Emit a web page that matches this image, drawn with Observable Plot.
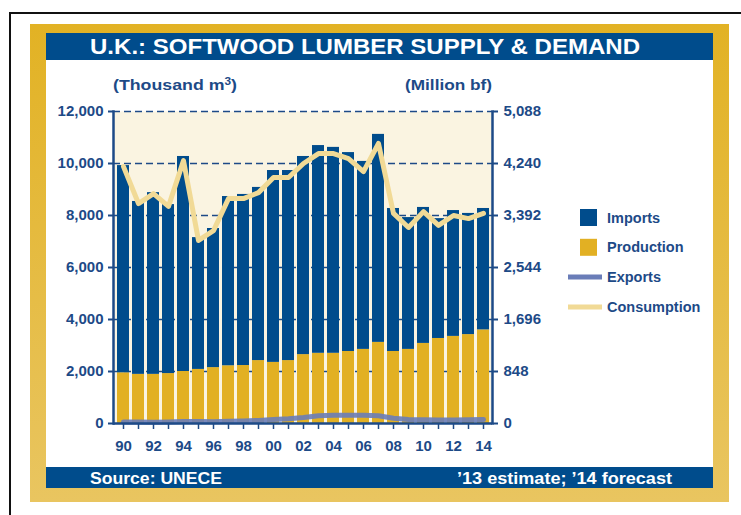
<!DOCTYPE html>
<html>
<head>
<meta charset="utf-8">
<script src="https://cdn.jsdelivr.net/npm/d3@7"></script>
<script src="https://cdn.jsdelivr.net/npm/@observablehq/plot@0.6"></script>
<style>
  html, body { margin: 0; padding: 0; background: #fff; }
  body { width: 741px; height: 515px; position: relative; overflow: hidden;
         font-family: "Liberation Sans", Arial, Helvetica, sans-serif; }
  .abs { position: absolute; }
  #blackframe { left: 9px; top: 12px; width: 800px; height: 600px;
                border-left: 2px solid #111; border-top: 2px solid #111; }
  #gold { left: 30px; top: 24px; width: 699px; height: 478px;
          background: linear-gradient(#e2b224, #e9c560); }
  #panel { left: 46px; top: 33px; width: 667px; height: 455px; background: #fff; }
  #titlebar { left: 46px; top: 33px; width: 667px; height: 27px; background: #004c8c; }
  #footbar { left: 46px; top: 467px; width: 667px; height: 21px; background: #004c8c; }
  #overlay { left: 0; top: 0; }
  #chart { left: 0; top: 0; }
</style>
</head>
<body>
<div id="blackframe" class="abs"></div>
<div id="gold" class="abs"></div>
<div id="panel" class="abs"></div>
<div id="titlebar" class="abs"></div>
<div id="footbar" class="abs"></div>
<div id="chart" class="abs"></div>
<svg id="overlay" class="abs" width="741" height="515" style="pointer-events:none">
  <text x="90" y="54" textLength="550" lengthAdjust="spacingAndGlyphs" fill="#fff" font-weight="bold" font-size="22">U.K.: SOFTWOOD LUMBER SUPPLY &amp; DEMAND</text>
  <text x="113" y="90" textLength="124" lengthAdjust="spacingAndGlyphs" fill="#1d4a87" font-weight="bold" font-size="15">(Thousand m<tspan font-size="10" dy="-5">3</tspan><tspan dy="5">)</tspan></text>
  <text x="405" y="90" textLength="87" lengthAdjust="spacingAndGlyphs" fill="#1d4a87" font-weight="bold" font-size="15">(Million bf)</text>
  <text x="90" y="484" textLength="132" lengthAdjust="spacingAndGlyphs" fill="#fff" font-weight="bold" font-size="17">Source: UNECE</text>
  <text x="457" y="484" textLength="215" lengthAdjust="spacingAndGlyphs" fill="#fff" font-weight="bold" font-size="17">’13 estimate; ’14 forecast</text>
  <g id="legend"></g>
</svg>
<script>
const years = d3.range(1990, 2015);
const production = [1950,1890,1890,1920,2000,2080,2150,2220,2230,2420,2350,2420,2650,2700,2700,2770,2850,3120,2770,2850,3080,3270,3350,3420,3600];
const imports    = [7970,6650,6990,6500,8270,5070,5350,6510,6580,6660,7380,7310,7620,7990,7920,7650,7230,8000,5500,5070,5230,4610,4840,4660,4670];
const exports_   = [60,60,50,60,80,80,70,90,100,120,150,180,230,300,320,320,320,300,200,150,140,130,130,140,150];
const consumption= [9880,8460,8840,8350,10110,7040,7420,8650,8650,8880,9460,9460,10000,10380,10380,10190,9690,10770,8080,7540,8150,7620,8000,7880,8080];
const yTicks = [0,2000,4000,6000,8000,10000,12000];
const bfFactor = 5088 / 12000;
const legendItems = ["Imports","Production","Exports","Consumption"];

const C = {imports:"#004c8c", production:"#e2b023", exports:"#6a7db8", consumption:"#f1da96", ink:"#1d4a87", bg:"#faf4e1"};

const bars = [];
years.forEach((y,i) => {
  bars.push({year:y, series:"Production", value:production[i]});
  bars.push({year:y, series:"Imports", value:imports[i]});
});
const lines = years.map((y,i) => ({year:y, exp:exports_[i], cons:consumption[i]}));

const chart = Plot.plot({
  width: 741, height: 515,
  marginLeft: 113, marginRight: 249, marginTop: 111, marginBottom: 92,
  style: {background: "transparent", fontSize: "15px", fontFamily: "'Liberation Sans', Arial, sans-serif", color: C.ink, fontWeight: "bold"},
  x: {type: "band", domain: years, padding: 0.2, label: null},
  y: {domain: [0, 12000], label: null},
  color: {domain: ["Production","Imports"], range: [C.production, C.imports]},
  marks: [
    Plot.frame({fill: C.bg, stroke: "none"}),
    Plot.gridY(yTicks.filter(d => d > 0), {stroke: C.ink, strokeOpacity: 1, strokeWidth: 1.5, strokeDasharray: "7,4"}),
    Plot.barY(bars, {x: "year", y: "value", fill: "series", order: ["Production","Imports"]}),
    Plot.line(lines, {x: "year", y: "exp", stroke: C.exports, strokeWidth: 5, strokeOpacity: 0.9}),
    Plot.line(lines, {x: "year", y: "cons", stroke: C.consumption, strokeWidth: 5}),
    Plot.frame({anchor: "left", stroke: C.ink, strokeWidth: 2.5}),
    Plot.frame({anchor: "right", stroke: C.ink, strokeWidth: 2.5}),
    Plot.ruleY([0], {stroke: C.ink, strokeWidth: 2.5}),
    Plot.axisY({ticks: yTicks, tickFormat: d3.format(","), tickSize: 5, tickPadding: 5, stroke: C.ink, strokeWidth: 2, fill: C.ink}),
    Plot.axisY({anchor: "right", ticks: yTicks, tickFormat: d => d3.format(",")(Math.round(d * bfFactor)), tickSize: 5, tickPadding: 6, stroke: C.ink, strokeWidth: 2, fill: C.ink}),
    Plot.axisX({ticks: years, tickFormat: () => "", tickSize: 6, stroke: C.ink, strokeWidth: 1.5}),
    Plot.axisX({ticks: years.filter(y => y % 2 === 0), tickFormat: y => String(y).slice(2), tickSize: 0, tickPadding: 17, fill: C.ink})
  ]
});
document.getElementById("chart").appendChild(chart);

// legend
const ns = "http://www.w3.org/2000/svg";
const lg = document.getElementById("legend");
const legendStyle = [
  {kind:"rect", color:C.imports},
  {kind:"rect", color:C.production},
  {kind:"line", color:C.exports},
  {kind:"line", color:C.consumption}
];
legendItems.forEach((name, i) => {
  const cy = 217.5 + i * 29.8;
  const s = legendStyle[i];
  let el;
  if (s.kind === "rect") {
    el = document.createElementNS(ns, "rect");
    el.setAttribute("x", 580); el.setAttribute("y", cy - 8.5);
    el.setAttribute("width", 17); el.setAttribute("height", 17);
    el.setAttribute("fill", s.color);
  } else {
    el = document.createElementNS(ns, "line");
    el.setAttribute("x1", 568); el.setAttribute("x2", 602);
    el.setAttribute("y1", cy); el.setAttribute("y2", cy);
    el.setAttribute("stroke", s.color); el.setAttribute("stroke-width", 5);
  }
  lg.appendChild(el);
  const t = document.createElementNS(ns, "text");
  t.setAttribute("x", 607); t.setAttribute("y", cy + 5);
  t.setAttribute("fill", C.ink); t.setAttribute("font-size", 14.5); t.setAttribute("font-weight", "bold");
  t.textContent = name;
  lg.appendChild(t);
});
</script>
</body>
</html>
